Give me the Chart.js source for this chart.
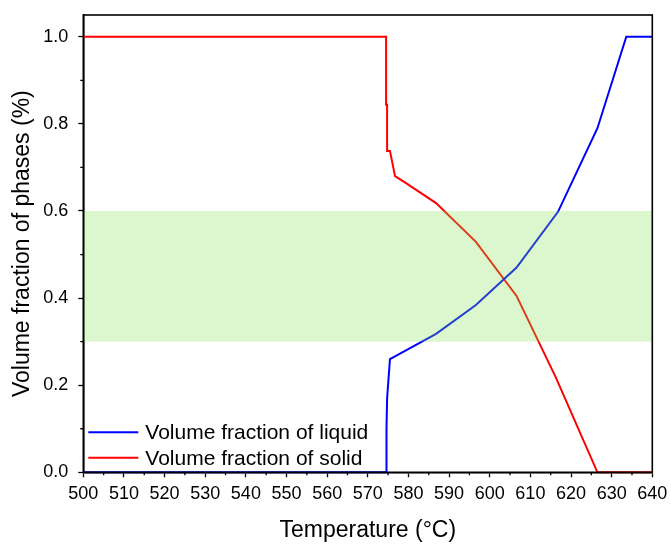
<!DOCTYPE html>
<html>
<head>
<meta charset="utf-8">
<script src="https://cdn.jsdelivr.net/npm/chart.js@4.4.1/dist/chart.umd.min.js"></script>
<style>
  html, body { margin: 0; padding: 0; background: #ffffff; }
  #wrap { width: 671px; height: 545px; }
</style>
</head>
<body>
<div id="wrap"><canvas id="c" width="671" height="545"></canvas></div>
<script>
// ---- data ----
const liquidTemps  = [500, 574.5, 574.6, 574.75, 575.45, 586.8, 596.6, 606.6, 616.8, 626.5, 633.6, 640];
const liquidValues = [0,   0,     0.10,  0.17,   0.26,   0.318, 0.384, 0.470, 0.598, 0.790, 1.0,   1.0];

const solidTemps  = [500, 574.5, 574.5, 574.75, 574.75, 575.45, 576.7, 579.4, 586.8, 596.6, 606.6, 616.2, 626.5, 640];
const solidValues = [1.0, 1.0,   0.844, 0.844,  0.738,  0.738,  0.680, 0.664, 0.618, 0.529, 0.405, 0.219, 0.0,   0.0];

const seriesLabels = ['Volume fraction of liquid', 'Volume fraction of solid'];
const xTickValues = [500, 510, 520, 530, 540, 550, 560, 570, 580, 590, 600, 610, 620, 630, 640];
const yTickValues = [0.0, 0.2, 0.4, 0.6, 0.8, 1.0];
const xMinorTicks = [505, 515, 525, 535, 545, 555, 565, 575, 585, 595, 605, 615, 625, 635];
const yMinorTicks = [0.1, 0.3, 0.5, 0.7, 0.9];
const bandLow = 0.3;
const bandHigh = 0.6;

const toPoints = (xs, ys) => xs.map((x, i) => ({ x: x, y: ys[i] }));

const FONT = "'Liberation Sans', Arial, sans-serif";

const bandPlugin = {
  id: 'band',
  afterDatasetsDraw(chart) {
    const { ctx, chartArea, scales } = chart;
    const y1 = scales.y.getPixelForValue(bandHigh);
    const y2 = scales.y.getPixelForValue(bandLow);
    ctx.save();
    ctx.fillStyle = 'rgba(130, 222, 80, 0.28)';
    ctx.fillRect(chartArea.left, y1, chartArea.right - chartArea.left, y2 - y1);
    ctx.restore();
  }
};

const framePlugin = {
  id: 'frame',
  afterDraw(chart) {
    const { ctx, chartArea, scales } = chart;
    ctx.save();
    ctx.strokeStyle = '#000';
    ctx.lineWidth = 1.6;
    ctx.strokeRect(chartArea.left, chartArea.top, chartArea.right - chartArea.left, chartArea.bottom - chartArea.top);
    // minor ticks
    ctx.lineWidth = 1.3;
    ctx.beginPath();
    xMinorTicks.forEach(v => {
      const px = scales.x.getPixelForValue(v);
      ctx.moveTo(px, chartArea.bottom);
      ctx.lineTo(px, chartArea.bottom + 3);
    });
    yMinorTicks.forEach(v => {
      const py = scales.y.getPixelForValue(v);
      ctx.moveTo(chartArea.left, py);
      ctx.lineTo(chartArea.left - 3, py);
    });
    ctx.stroke();

    // legend inside the plot area
    ctx.font = '21px ' + FONT;
    ctx.textBaseline = 'middle';
    ctx.textAlign = 'left';
    const rows = [chartArea.bottom - 40, chartArea.bottom - 14.5];
    chart.data.datasets.forEach((ds, i) => {
      const y = rows[i];
      ctx.strokeStyle = ds.borderColor;
      ctx.lineWidth = 2;
      ctx.beginPath();
      ctx.moveTo(chartArea.left + 5, y);
      ctx.lineTo(chartArea.left + 55, y);
      ctx.stroke();
      ctx.fillStyle = '#000';
      ctx.fillText(ds.label, chartArea.left + 62, y + 1);
    });
    ctx.restore();
  }
};

new Chart(document.getElementById('c'), {
  type: 'scatter',
  data: {
    datasets: [
      {
        label: seriesLabels[0],
        data: toPoints(liquidTemps, liquidValues),
        showLine: true,
        borderColor: '#0000ff',
        backgroundColor: '#0000ff',
        borderWidth: 2,
        pointRadius: 0,
        tension: 0,
        clip: false
      },
      {
        label: seriesLabels[1],
        data: toPoints(solidTemps, solidValues),
        showLine: true,
        borderColor: '#ff0000',
        backgroundColor: '#ff0000',
        borderWidth: 2,
        pointRadius: 0,
        tension: 0,
        clip: false
      }
    ]
  },
  options: {
    responsive: false,
    animation: false,
    layout: { padding: { top: 15, right: 18.7, left: 0, bottom: 0 } },
    plugins: {
      legend: { display: false },
      tooltip: { enabled: false }
    },
    scales: {
      x: {
        type: 'linear',
        min: 500,
        max: 640,
        afterFit(scale) {
          scale.height = 72.7;
          scale.paddingLeft = 0; scale.paddingRight = 0;
        },
        afterBuildTicks(scale) { scale.ticks = xTickValues.map(v => ({ value: v })); },
        border: { display: true, color: '#000', width: 1.6 },
        grid: { display: true, drawOnChartArea: false, drawTicks: true, tickLength: 5, tickColor: '#000', tickWidth: 1.3 },
        ticks: {
          color: '#000',
          font: { family: FONT, size: 18 },
          padding: 6,
          maxRotation: 0,
          autoSkip: false,
          callback: v => String(v)
        },
        title: {
          display: true,
          text: 'Temperature (°C)',
          color: '#000',
          font: { family: FONT, size: 23 },
          padding: { top: 0, bottom: 1 }
        }
      },
      y: {
        type: 'linear',
        min: 0,
        max: 1.05,
        afterFit(scale) {
          scale.width = 83.3;
          scale.paddingTop = 0; scale.paddingBottom = 0;
        },
        afterBuildTicks(scale) { scale.ticks = yTickValues.map(v => ({ value: v })); },
        border: { display: true, color: '#000', width: 1.6 },
        grid: { display: true, drawOnChartArea: false, drawTicks: true, tickLength: 5, tickColor: '#000', tickWidth: 1.3 },
        ticks: {
          color: '#000',
          font: { family: FONT, size: 18 },
          padding: 10,
          autoSkip: false,
          callback: v => Number(v).toFixed(1)
        },
        title: {
          display: true,
          text: 'Volume fraction of phases (%)',
          color: '#000',
          font: { family: FONT, size: 23 },
          padding: { top: 9, bottom: 0 }
        }
      }
    }
  },
  plugins: [bandPlugin, framePlugin]
});
</script>
</body>
</html>
